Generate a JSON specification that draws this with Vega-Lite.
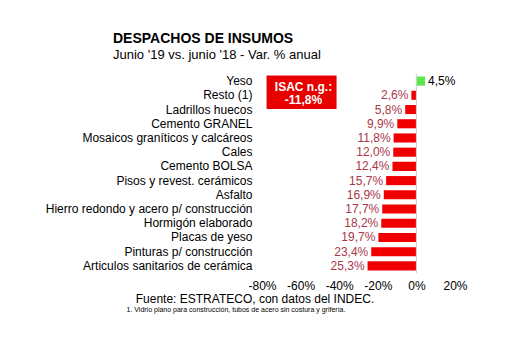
{
  "$schema": "https://vega.github.io/schema/vega-lite/v6.json",
  "autosize": "none",
  "width": 193,
  "height": 199,
  "padding": {"left": 262, "top": 74, "right": 75, "bottom": 82},
  "background": "white",
  "config": {
    "view": {"stroke": null},
    "font": "Liberation Sans",
    "axisX": {"labelFlush": false, "labelOverlap": false, "labelBound": false, "grid": false, "domain": false, "ticks": false}
  },
  "title": {
    "text": "DESPACHOS DE INSUMOS",
    "subtitle": "Junio '19 vs. junio '18 - Var. % anual",
    "anchor": "start",
    "frame": "group",
    "dx": -149,
    "offset": 12,
    "font": "Liberation Sans",
    "fontSize": 14,
    "fontWeight": "bold",
    "color": "black",
    "subtitleFont": "Liberation Sans",
    "subtitleFontSize": 13,
    "subtitleColor": "black",
    "subtitlePadding": 3
  },
  "data": {
    "values": [
      {"cat": "Yeso", "v": 4.5, "lab": "4,5%"},
      {"cat": "Resto (1)", "v": -2.6, "lab": "2,6%"},
      {"cat": "Ladrillos huecos", "v": -5.8, "lab": "5,8%"},
      {"cat": "Cemento GRANEL", "v": -9.9, "lab": "9,9%"},
      {"cat": "Mosaicos graníticos y calcáreos", "v": -11.8, "lab": "11,8%"},
      {"cat": "Cales", "v": -12.0, "lab": "12,0%"},
      {"cat": "Cemento BOLSA", "v": -12.4, "lab": "12,4%"},
      {"cat": "Pisos y revest. cerámicos", "v": -15.7, "lab": "15,7%"},
      {"cat": "Asfalto", "v": -16.9, "lab": "16,9%"},
      {"cat": "Hierro redondo y acero p/ construcción", "v": -17.7, "lab": "17,7%"},
      {"cat": "Hormigón elaborado", "v": -18.2, "lab": "18,2%"},
      {"cat": "Placas de yeso", "v": -19.7, "lab": "19,7%"},
      {"cat": "Pinturas p/ construcción", "v": -23.4, "lab": "23,4%"},
      {"cat": "Articulos sanitarios de cerámica", "v": -25.3, "lab": "25,3%"}
    ]
  },
  "encoding": {
    "x": {
      "field": "v",
      "type": "quantitative",
      "scale": {"domain": [-80, 20], "nice": false},
      "axis": {
        "values": [-80, -60, -40, -20, 0, 20],
        "labelExpr": "datum.value + '%'",
        "labelOverlap": false,
        "labelBound": false,
        "labelFlush": false,
        "grid": false,
        "domain": false,
        "ticks": false,
        "labelPadding": 7,
        "labelFontSize": 12,
        "labelColor": "black",
        "labelFont": "Liberation Sans",
        "title": "Fuente: ESTRATECO, con datos del INDEC.",
        "titleX": -7.5,
        "titleY": 29,
        "titleAlign": "center",
        "titleBaseline": "alphabetic",
        "titleFontSize": 12,
        "titleFontWeight": "normal",
        "titleColor": "black",
        "titleFont": "Liberation Sans"
      }
    },
    "y": {
      "field": "cat",
      "type": "nominal",
      "sort": null,
      "scale": {"paddingInner": 0.36, "paddingOuter": 0.18},
      "axis": {
        "title": "1. Vidrio plano para construcción, tubos de acero sin costura y grifería.",
        "titleAngle": 0,
        "titleAlign": "left",
        "titleBaseline": "alphabetic",
        "titleX": -136,
        "titleY": 237,
        "titleFontSize": 7,
        "titleFontWeight": "normal",
        "titleColor": "black",
        "titleFont": "Liberation Sans",
        "domain": false,
        "ticks": false,
        "labelPadding": 10,
        "labelFontSize": 12,
        "labelColor": "black",
        "labelFont": "Liberation Sans",
        "labelLimit": 300
      }
    }
  },
  "layer": [
    {
      "mark": {"type": "bar"},
      "encoding": {
        "color": {
          "condition": {"test": "datum.v > 0", "value": "#5ce64a"},
          "value": "#f00000"
        }
      }
    },
    {
      "transform": [{"filter": "datum.v < 0"}],
      "mark": {"type": "text", "align": "right", "dx": -3, "fontSize": 12, "color": "#a8384a", "font": "Liberation Sans"},
      "encoding": {
        "text": {"field": "lab"}
      }
    },
    {
      "transform": [{"filter": "datum.v > 0"}],
      "mark": {"type": "text", "align": "left", "dx": 3, "fontSize": 12, "color": "black", "font": "Liberation Sans"},
      "encoding": {
        "text": {"field": "lab"}
      }
    },
    {
      "transform": [{"filter": "datum.cat == 'Yeso'"}],
      "mark": {"type": "rule", "color": "#d0d0d0", "strokeWidth": 1},
      "encoding": {"x": {"datum": 0}, "y": null}
    },
    {
      "transform": [{"filter": "datum.cat == 'Yeso'"}],
      "mark": {
        "type": "point",
        "shape": "M-1,-0.16L1,-0.16L1,0.8L-1,0.8Z",
        "size": 4900,
        "filled": true,
        "color": "#e80000",
        "opacity": 1
      },
      "encoding": {
        "x": {"datum": -59.5}
      }
    },
    {
      "transform": [{"filter": "datum.cat == 'Yeso'"}],
      "mark": {
        "type": "text",
        "text": ["ISAC n.g.:", "-11,8%"],
        "align": "center",
        "baseline": "middle",
        "dy": 6,
        "lineHeight": 13,
        "fontSize": 12,
        "fontWeight": "bold",
        "color": "white",
        "font": "Liberation Sans"
      },
      "encoding": {
        "x": {"datum": -58.5}
      }
    }
  ]
}
